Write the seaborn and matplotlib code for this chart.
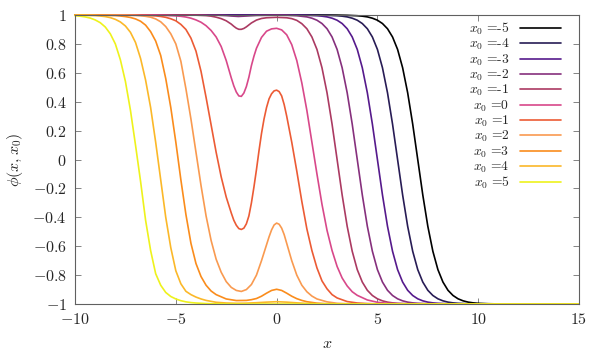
import pandas as pd
import seaborn as sns
import matplotlib.pyplot as plt

# values
x0_values = [-5, -4, -3, -2, -1, 0, 1, 2, 3, 4, 5]
colors = ["#000000", "#281c55", "#561a8c", "#86307d", "#ab3a62", "#d8488a",
          "#ec5b35", "#f99a50", "#fa8c1c", "#fbb829", "#eef21c"]

x_m5 = [-10, 2, 3, 3.5, 4, 4.25, 4.5, 4.75, 5, 5.25, 5.5, 5.75, 6, 6.25, 6.5, 6.75, 7,
        7.25, 7.5, 7.75, 8, 8.25, 8.5, 8.75, 9, 9.25, 9.5, 9.75, 10, 10.5, 11, 12, 15]
phi_m5 = [1, 0.9998, 0.9993, 0.998, 0.995, 0.992, 0.987, 0.978, 0.964, 0.941, 0.905, 0.848,
          0.762, 0.635, 0.462, 0.245, 0, -0.245, -0.462, -0.635, -0.762, -0.848, -0.905,
          -0.941, -0.964, -0.978, -0.987, -0.992, -0.995, -0.998, -0.9993, -0.9998, -1]

x_m4 = [-10, 1, 2, 2.5, 3, 3.25, 3.5, 3.75, 4, 4.25, 4.5, 4.75, 5, 5.25, 5.5, 5.75, 6,
        6.25, 6.5, 6.75, 7, 7.25, 7.5, 7.75, 8, 8.25, 8.5, 8.75, 9, 9.5, 10, 11, 15]
phi_m4 = [1, 0.9998, 0.9993, 0.998, 0.995, 0.992, 0.987, 0.978, 0.964, 0.941, 0.905, 0.848,
          0.762, 0.635, 0.462, 0.245, 0, -0.245, -0.462, -0.635, -0.762, -0.848, -0.905,
          -0.941, -0.964, -0.978, -0.987, -0.992, -0.995, -0.998, -0.9993, -0.9998, -1]

x_m3 = [-10, 0, 1, 1.5, 2, 2.25, 2.5, 2.75, 3, 3.25, 3.5, 3.75, 4, 4.25, 4.5, 4.75, 5,
        5.25, 5.5, 5.75, 6, 6.25, 6.5, 6.75, 7, 7.25, 7.5, 7.75, 8, 8.5, 9, 10, 15]
phi_m3 = [1, 0.9998, 0.9993, 0.998, 0.995, 0.992, 0.987, 0.978, 0.964, 0.941, 0.905, 0.848,
          0.762, 0.635, 0.462, 0.245, 0, -0.245, -0.462, -0.635, -0.762, -0.848, -0.905,
          -0.941, -0.964, -0.978, -0.987, -0.992, -0.995, -0.998, -0.9993, -0.9998, -1]

x_m2 = [-10, -3, -2.5, -2.25, -1.9, -1.5, -1, 0, 0.5, 1, 1.5, 1.75, 2, 2.25, 2.5, 2.75, 3,
        3.25, 3.5, 3.75, 4, 4.25, 4.5, 4.75, 5, 5.25, 5.5, 5.75, 6, 6.25, 6.5, 6.75, 7, 7.5,
        8, 9, 15]
phi_m2 = [1, 0.999, 0.996, 0.993, 0.99, 0.993, 0.997, 0.999, 0.998, 0.995, 0.987, 0.978, 0.964,
          0.941, 0.905, 0.848, 0.762, 0.635, 0.462, 0.245, 0, -0.245, -0.462, -0.635, -0.762,
          -0.848, -0.905, -0.941, -0.964, -0.978, -0.987, -0.992, -0.995, -0.998, -0.9993,
          -0.9998, -1]

x_m1 = [-10, -4.5, -4, -3.5, -3.25, -3, -2.75, -2.5, -2.25, -2.125, -2, -1.875, -1.75, -1.625,
        -1.5, -1.25, -1, -0.75, -0.5, 0, 0.5, 0.75, 1, 1.25, 1.5, 1.75, 2, 2.25, 2.5, 2.75,
        3, 3.25, 3.5, 3.75, 4, 4.25, 4.5, 4.75, 5, 5.25, 5.5, 5.75, 6, 6.5, 7, 8, 15]
phi_m1 = [1, 0.9995, 0.999, 0.996, 0.992, 0.985, 0.975, 0.96, 0.937, 0.922, 0.909, 0.901,
          0.901, 0.907, 0.918, 0.945, 0.965, 0.976, 0.981, 0.984, 0.981, 0.975, 0.963, 0.94,
          0.905, 0.848, 0.762, 0.635, 0.462, 0.245, 0, -0.245, -0.462, -0.635, -0.762, -0.848,
          -0.905, -0.941, -0.964, -0.978, -0.987, -0.992, -0.995, -0.998, -0.9993, -0.9998, -1]

x_0 = [-10, -7, -6, -5.5, -5, -4.75, -4.5, -4.25, -4, -3.75, -3.5, -3.25, -3, -2.75, -2.5,
       -2.25, -2.125, -2, -1.875, -1.75, -1.625, -1.5, -1.375, -1.25, -1.125, -1, -0.75, -0.5,
       -0.25, 0, 0.25, 0.5, 0.75, 1, 1.25, 1.5, 1.75, 2, 2.25, 2.5, 2.75, 3, 3.25, 3.5, 3.75,
       4, 4.5, 5, 5.5, 6, 15]
phi_0 = [1, 0.9995, 0.999, 0.997, 0.994, 0.991, 0.986, 0.978, 0.966, 0.95, 0.926, 0.893, 0.848,
         0.782, 0.685, 0.565, 0.51, 0.467, 0.44, 0.437, 0.46, 0.505, 0.57, 0.65, 0.715, 0.77,
         0.845, 0.888, 0.904, 0.908, 0.897, 0.863, 0.795, 0.685, 0.53, 0.34, 0.12, -0.10, -0.31,
         -0.49, -0.63, -0.74, -0.82, -0.875, -0.915, -0.94, -0.972, -0.988, -0.995, -0.998, -1]

x_p1 = [-10, -8, -7, -6.5, -6, -5.75, -5.5, -5.25, -5, -4.75, -4.5, -4.25, -4, -3.75, -3.5,
        -3.25, -3, -2.75, -2.5, -2.25, -2.125, -2, -1.875, -1.75, -1.625, -1.5, -1.375, -1.25,
        -1.125, -1, -0.875, -0.75, -0.625, -0.5, -0.375, -0.25, -0.125, 0, 0.125, 0.25, 0.375,
        0.5, 0.625, 0.75, 1, 1.25, 1.5, 1.75, 2, 2.25, 2.5, 2.75, 3, 3.5, 4, 4.5, 5, 15]
phi_p1 = [1, 0.9995, 0.999, 0.997, 0.994, 0.99, 0.984, 0.974, 0.96, 0.935, 0.90, 0.84, 0.75,
          0.61, 0.43, 0.24, 0.05, -0.12, -0.26, -0.37, -0.42, -0.455, -0.478, -0.484, -0.475,
          -0.445, -0.39, -0.30, -0.19, -0.07, 0.06, 0.18, 0.28, 0.36, 0.42, 0.455, 0.475, 0.48,
          0.47, 0.44, 0.38, 0.30, 0.21, 0.12, -0.08, -0.29, -0.48, -0.63, -0.75, -0.84, -0.895,
          -0.935, -0.958, -0.983, -0.993, -0.997, -0.999, -1]

x_p2 = [-10, -8, -7.5, -7, -6.75, -6.5, -6.25, -6, -5.75, -5.5, -5.25, -5, -4.75, -4.5, -4.25,
        -4, -3.75, -3.5, -3.25, -3, -2.75, -2.5, -2.25, -2, -1.75, -1.5, -1.25, -1, -0.75,
        -0.5, -0.375, -0.25, -0.125, 0, 0.125, 0.25, 0.375, 0.5, 0.75, 1, 1.25, 1.5, 1.75, 2,
        2.5, 3, 3.5, 4, 15]
phi_p2 = [1, 0.9995, 0.999, 0.997, 0.995, 0.991, 0.985, 0.973, 0.953, 0.92, 0.87, 0.80, 0.68,
          0.49, 0.28, 0.05, -0.18, -0.39, -0.56, -0.69, -0.78, -0.845, -0.885, -0.906, -0.913,
          -0.90, -0.865, -0.80, -0.70, -0.59, -0.535, -0.487, -0.453, -0.44, -0.448, -0.475,
          -0.52, -0.58, -0.70, -0.80, -0.87, -0.915, -0.945, -0.965, -0.985, -0.995, -0.998,
          -1, -1]

x_p3 = [-10, -9, -8.5, -8, -7.75, -7.5, -7.25, -7, -6.75, -6.5, -6.25, -6, -5.75, -5.5, -5.25,
        -5, -4.75, -4.5, -4.25, -4, -3.75, -3.5, -3.25, -3, -2.5, -2, -1.5, -1.25, -1, -0.75,
        -0.5, -0.25, 0, 0.25, 0.5, 0.75, 1, 1.25, 1.5, 2, 2.5, 3, 15]
phi_p3 = [1, 0.999, 0.998, 0.996, 0.993, 0.989, 0.983, 0.973, 0.957, 0.93, 0.885, 0.82, 0.72,
          0.56, 0.36, 0.12, -0.14, -0.38, -0.58, -0.72, -0.81, -0.87, -0.91, -0.935, -0.965,
          -0.976, -0.975, -0.97, -0.962, -0.946, -0.925, -0.906, -0.898, -0.906, -0.925, -0.946,
          -0.963, -0.975, -0.984, -0.994, -0.998, -1, -1]

x_p4 = [-10, -9.5, -9, -8.75, -8.5, -8.25, -8, -7.75, -7.5, -7.25, -7, -6.75, -6.5, -6.25, -6,
        -5.75, -5.5, -5.25, -5, -4.75, -4.5, -4.25, -4, -3.75, -3.5, -3, -2.5, -2, -1.5, -1,
        -0.5, 0, 0.5, 1, 1.5, 2, 3, 15]
phi_p4 = [0.9993, 0.998, 0.996, 0.993, 0.989, 0.982, 0.97, 0.952, 0.924, 0.88, 0.81, 0.70, 0.55,
          0.36, 0.12, -0.14, -0.40, -0.61, -0.77, -0.86, -0.912, -0.935, -0.952, -0.965, -0.975,
          -0.988, -0.993, -0.995, -0.994, -0.991, -0.987, -0.984, -0.987, -0.992, -0.996,
          -0.998, -1, -1]

x_p5 = [-10, -9.75, -9.5, -9.25, -9, -8.75, -8.5, -8.25, -8, -7.75, -7.5, -7.25, -7, -6.75,
        -6.5, -6.25, -6, -5.75, -5.5, -5.25, -5, -4.75, -4.5, -4.25, -4, -3.5, -3, -2, 15]
phi_p5 = [0.995, 0.992, 0.987, 0.979, 0.966, 0.947, 0.917, 0.87, 0.80, 0.69, 0.54, 0.34, 0.10,
          -0.15, -0.42, -0.63, -0.79, -0.87, -0.92, -0.948, -0.965, -0.977, -0.985, -0.99,
          -0.993, -0.997, -0.999, -1, -1]

xticks = [-10, -5, 0, 5, 10, 15]
xtick_labels = ["-10", "-5", "0", "5", "10", "15"]
yticks = [-1, -0.8, -0.6, -0.4, -0.2, 0, 0.2, 0.4, 0.6, 0.8, 1]
ytick_labels = ["-1", "-0.8", "-0.6", "-0.4", "-0.2", "0", "0.2", "0.4", "0.6", "0.8", "1"]

curves = {
    -5: (x_m5, phi_m5), -4: (x_m4, phi_m4), -3: (x_m3, phi_m3), -2: (x_m2, phi_m2),
    -1: (x_m1, phi_m1), 0: (x_0, phi_0), 1: (x_p1, phi_p1), 2: (x_p2, phi_p2),
    3: (x_p3, phi_p3), 4: (x_p4, phi_p4), 5: (x_p5, phi_p5),
}

frames = []
for x0 in x0_values:
    xs, ys = curves[x0]
    frames.append(pd.DataFrame({"x": xs, "phi": ys, "x0": x0}))
df = pd.concat(frames, ignore_index=True)

sns.set_style("ticks")
plt.rcParams["font.family"] = ["cmr10", "DejaVu Serif"]
plt.rcParams["mathtext.fontset"] = "cm"
plt.rcParams["axes.unicode_minus"] = False

fig = plt.figure(figsize=(6.07, 3.54), dpi=100)
ax = fig.add_axes([0.1236, 0.1412, 0.8303, 0.8164])

sns.lineplot(data=df, x="x", y="phi", hue="x0", hue_order=x0_values, palette=colors,
             estimator=None, sort=False, legend=False, linewidth=1.2, ax=ax)
for line in ax.lines:
    line.set_clip_on(False)
    line.set_solid_joinstyle("round")

ax.set_xlim(-10, 15)
ax.set_ylim(-1, 1)
ax.set_xticks(xticks)
ax.set_xticklabels(["$" + t + "$" for t in xtick_labels], fontsize=11.5)
ax.set_yticks(yticks)
ax.set_yticklabels(["$" + t + "$" for t in ytick_labels], fontsize=11.5)
ax.tick_params(direction="in", top=True, right=True, length=4, width=0.6,
               color="#707070", pad=6)
for sp in ax.spines.values():
    sp.set_color("#606060")
    sp.set_linewidth(0.8)

ax.set_xlabel("$x$", fontsize=11.5, labelpad=7)
ax.set_ylabel(r"$\phi(x,x_0)$", fontsize=11.5, labelpad=5)

# legend text kept a little small so the rows do not overlap
labels = [r"$x_0\ \text{=" + str(v) + "}$" for v in x0_values]
ax.legend(handles=ax.lines, labels=labels, loc="upper right", bbox_to_anchor=(0.9637, 0.98),
          frameon=False, markerfirst=False, fontsize=9.8, handlelength=3.0,
          handletextpad=0.75, labelspacing=0.0, borderpad=0, borderaxespad=0)

fig.savefig("out.png", dpi=100)
